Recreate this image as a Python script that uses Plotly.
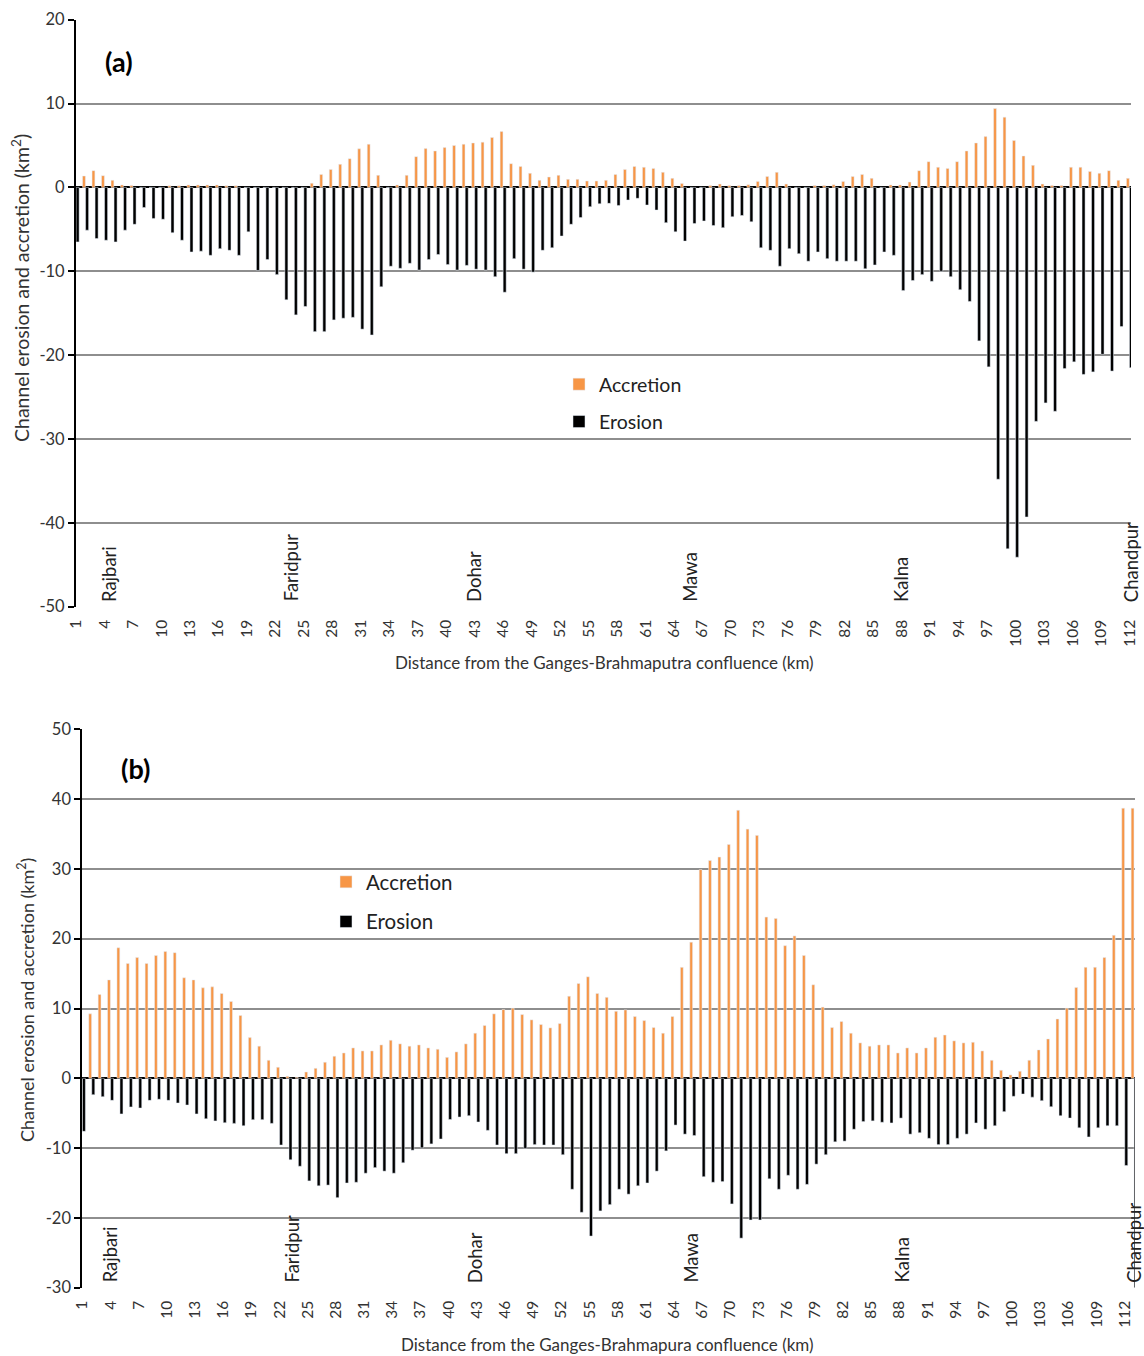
import plotly.graph_objects as go

# ---------------- data ----------------
km_a = list(range(1, 113))
km_b = list(range(1, 114))

accretion_a = [0, 1.36, 2.0, 1.4, 0.84, 0.3, 0.24, 0, 0, 0,
               0.2, 0.2, 0.3, 0.3, 0.3, 0.3, 0.2, 0.2, 0, 0,
               0, 0, 0, 0, 0, 0.5, 1.55, 2.15, 2.75, 3.43,
               4.6, 5.15, 1.44, 0, 0.3, 1.44, 3.67, 4.63, 4.35, 4.75,
               5.0, 5.15, 5.3, 5.4, 5.95, 6.66, 2.83, 2.5, 1.68, 0.84,
               1.24, 1.44, 0.96, 0.96, 0.76, 0.76, 0.84, 1.55, 2.15, 2.5,
               2.4, 2.27, 1.8, 1.08, 0.48, 0, 0, 0.24, 0.4, 0.24,
               0.24, 0.32, 0.72, 1.3, 1.8, 0.4, 0, 0, 0.24, 0.24,
               0.32, 0.72, 1.3, 1.55, 1.08, 0, 0.3, 0.3, 0.64, 2.0,
               3.07, 2.4, 2.27, 3.07, 4.35, 5.3, 6.06, 9.41, 8.38, 5.6,
               3.75, 2.63, 0.4, 0.24, 0.24, 2.4, 2.4, 1.9, 1.68, 2.0,
               0.84, 1.08]

erosion_a = [-6.5, -5.1, -6.1, -6.3, -6.5, -5.1, -4.4, -2.4, -3.7, -3.8,
             -5.4, -6.3, -7.7, -7.6, -8.1, -7.3, -7.5, -8.1, -5.3, -9.9,
             -8.6, -10.4, -13.4, -15.2, -14.2, -17.2, -17.2, -15.8, -15.6, -15.5,
             -16.9, -17.6, -11.85, -9.4, -9.65, -9.05, -9.85, -8.6, -8.0, -9.2,
             -9.85, -9.3, -9.75, -9.85, -10.65, -12.5, -8.5, -9.75, -10.1, -7.5,
             -7.2, -5.8, -4.4, -3.6, -2.3, -1.95, -1.9, -2.15, -1.5, -1.3,
             -2.1, -2.7, -4.2, -5.3, -6.4, -4.3, -4.0, -4.55, -4.8, -3.5,
             -3.35, -4.1, -7.2, -7.5, -9.4, -7.3, -7.9, -8.8, -7.7, -8.5,
             -8.8, -8.8, -8.8, -9.7, -9.25, -7.7, -8.1, -12.3, -11.1, -10.4,
             -11.2, -10.0, -10.65, -12.2, -13.6, -18.3, -21.4, -34.8, -43.1, -44.1,
             -39.3, -27.9, -25.7, -26.7, -21.6, -20.8, -22.3, -22.0, -19.9, -21.9,
             -16.6, -21.5]

accretion_b = [0, 9.23, 12.0, 14.1, 18.7, 16.45, 17.3, 16.45, 17.6, 18.17,
               18.0, 14.4, 14.1, 12.96, 13.1, 12.15, 11.0, 9.0, 5.83, 4.6,
               2.58, 1.58, 0.29, 0.14, 0.9, 1.43, 2.3, 3.16, 3.63, 4.35,
               3.92, 3.92, 4.78, 5.45, 4.93, 4.6, 4.78, 4.35, 4.16, 3.0,
               3.78, 4.93, 6.46, 7.56, 9.23, 9.85, 10.04, 9.13, 8.37, 7.7,
               7.22, 7.84, 11.76, 13.58, 14.54, 12.15, 11.6, 9.6, 9.8, 8.85,
               8.27, 7.27, 6.46, 8.85, 15.9, 19.5, 29.9, 31.2, 31.7, 33.5,
               38.4, 35.7, 34.8, 23.1, 22.9, 19.0, 20.4, 17.6, 13.4, 10.2,
               7.27, 8.13, 6.46, 5.07, 4.6, 4.78, 4.78, 3.63, 4.35, 3.63,
               4.35, 5.88, 6.2, 5.36, 5.07, 5.16, 3.92, 2.58, 1.15, 0.48,
               1.0, 2.58, 4.07, 5.64, 8.5, 10.04, 13.0, 15.9, 15.9, 17.3,
               20.5, 38.7, 38.7]

erosion_b = [-7.6, -2.34, -2.63, -3.16, -5.1, -4.1, -4.26, -3.16, -3.0, -3.16,
             -3.54, -3.83, -5.1, -5.8, -6.1, -6.36, -6.46, -6.8, -5.93, -5.93,
             -6.46, -9.56, -11.67, -12.6, -14.7, -15.4, -15.3, -17.1, -15.0, -14.9,
             -13.6, -12.8, -13.3, -13.6, -12.1, -10.3, -9.95, -9.4, -8.7, -5.9,
             -5.55, -5.36, -6.26, -7.46, -9.56, -10.8, -10.8, -10.04, -9.5, -9.56,
             -9.56, -10.95, -15.9, -19.2, -22.6, -19.0, -18.1, -15.9, -16.6, -15.4,
             -15.0, -13.3, -10.4, -6.7, -8.0, -8.2, -14.1, -14.9, -14.8, -18.0,
             -22.9, -20.3, -20.3, -14.4, -15.9, -13.9, -15.9, -15.2, -12.3, -10.95,
             -9.1, -9.0, -7.3, -6.2, -6.1, -6.3, -6.4, -5.7, -8.0, -7.8,
             -8.6, -9.5, -9.5, -8.6, -8.0, -6.4, -7.3, -6.8, -4.78, -2.58,
             -2.25, -2.7, -3.2, -4.07, -5.36, -5.7, -7.1, -8.4, -7.1, -6.8,
             -6.8, -12.5, -30.0]

tick_vals = list(range(1, 113, 3))
tick_text = [str(v) for v in tick_vals]

y_ticks_a = [20, 10, 0, -10, -20, -30, -40, -50]
y_ticks_b = [50, 40, 30, 20, 10, 0, -10, -20, -30]

towns = ["Rajbari", "Faridpur", "Dohar", "Mawa", "Kalna", "Chandpur"]
town_km_a = [4.4, 23.6, 42.9, 65.7, 87.9, 112.1]
town_km_b = [3.9, 23.3, 42.8, 65.8, 88.3, 113.0]

# ---------------- layout helpers ----------------
W, H = 1144, 1356
FONT = "Lato"
ORANGE = "#F79646"
GRID = "#8e8e8e"


def fx(px):
    return px / W


def fy(py):
    return 1 - py / H


fig = go.Figure()

fig.add_trace(go.Bar(x=km_a, y=accretion_a, name="Accretion", marker_color=ORANGE,
                     width=0.30, offset=-0.32, xaxis="x", yaxis="y",
                     legend="legend", legendgroup="acc_a"))
fig.add_trace(go.Bar(x=km_a, y=erosion_a, name="Erosion", marker_color="black",
                     width=0.32, offset=0.0, xaxis="x", yaxis="y",
                     legend="legend", legendgroup="ero_a"))
fig.add_trace(go.Bar(x=km_b, y=accretion_b, name="Accretion", marker_color=ORANGE,
                     width=0.30, offset=-0.32, xaxis="x2", yaxis="y2",
                     legend="legend2", legendgroup="acc_b"))
fig.add_trace(go.Bar(x=km_b, y=erosion_b, name="Erosion", marker_color="black",
                     width=0.32, offset=0.0, xaxis="x2", yaxis="y2",
                     legend="legend2", legendgroup="ero_b"))

xcommon = dict(tickmode="array", tickvals=tick_vals, ticktext=tick_text, tickangle=-90,
               showgrid=False, zeroline=False, showline=False, ticks="",
               tickfont=dict(family=FONT, size=15.5, color="#333333"),
               ticklabelstandoff=9, automargin=False)
ycommon = dict(showgrid=True, gridcolor=GRID, gridwidth=1.6,
               zeroline=True, zerolinecolor="black", zerolinewidth=2,
               showline=True, linecolor="black", linewidth=2,
               ticks="outside", ticklen=6, tickwidth=1.6, tickcolor="black",
               tickfont=dict(family=FONT, size=16.5, color="#333333"), automargin=False)

fig.update_layout(
    width=W, height=H,
    margin=dict(l=0, r=0, t=0, b=0, pad=0, autoexpand=False),
    paper_bgcolor="white", plot_bgcolor="white",
    barmode="overlay",
    font=dict(family=FONT, color="#222222"),
    xaxis=dict(domain=[fx(76), fx(1131)], anchor="y", range=[0.99, 112.16], **xcommon),
    yaxis=dict(domain=[fy(606.7), fy(19.7)], anchor="x", range=[-50, 20],
               tickmode="array", tickvals=y_ticks_a, ticktext=[str(v) for v in y_ticks_a],
               **ycommon),
    xaxis2=dict(domain=[fx(82.3), fx(1135)], anchor="y2", range=[0.99, 113.09], **xcommon),
    yaxis2=dict(domain=[fy(1287.7), fy(729.3)], anchor="x2", range=[-30, 50],
                tickmode="array", tickvals=y_ticks_b, ticktext=[str(v) for v in y_ticks_b],
                **ycommon),
    legend=dict(x=fx(559), y=fy(365), xanchor="left", yanchor="top",
                font=dict(family=FONT, size=19.5, color="#222222"),
                tracegroupgap=9, bgcolor="rgba(0,0,0,0)", itemwidth=30),
    legend2=dict(x=fx(326), y=fy(862), xanchor="left", yanchor="top",
                 font=dict(family=FONT, size=20.5, color="#222222"),
                 tracegroupgap=10, bgcolor="rgba(0,0,0,0)", itemwidth=30),
)

ann = []


def paper_text(text, px, py, size, angle=0, color="#333333"):
    ann.append(dict(text=text, x=fx(px), y=fy(py), xref="paper", yref="paper",
                    xanchor="center", yanchor="middle", textangle=angle, showarrow=False,
                    font=dict(family=FONT, size=size, color=color)))


paper_text("<b>(a)</b>", 119, 61, 27, color="black")
paper_text("<b>(b)</b>", 135, 768, 27, color="black")
ytitle = "Channel erosion and accretion (km<sup>2</sup>)"
paper_text(ytitle, 20, 288, 19.5, angle=-90)
paper_text(ytitle, 26, 1000, 18, angle=-90)
paper_text("Distance from the Ganges-Brahmaputra confluence (km)", 604, 663, 17)
paper_text("Distance from the Ganges-Brahmapura confluence (km)", 607, 1344, 17)

for name, xa in zip(towns, town_km_a):
    ann.append(dict(text=name, x=xa, y=-50, xref="x", yref="y", xanchor="center",
                    yanchor="bottom", yshift=3, textangle=-90, showarrow=False,
                    font=dict(family=FONT, size=18.5, color="#222222")))
for name, xb in zip(towns, town_km_b):
    ann.append(dict(text=name, x=xb, y=-30, xref="x2", yref="y2", xanchor="center",
                    yanchor="bottom", yshift=3, textangle=-90, showarrow=False,
                    font=dict(family=FONT, size=18.5, color="#222222")))
fig.update_layout(annotations=ann)

fig.write_html("out.html", config={"displayModeBar": False},
               post_script="document.body.style.margin='0';")
